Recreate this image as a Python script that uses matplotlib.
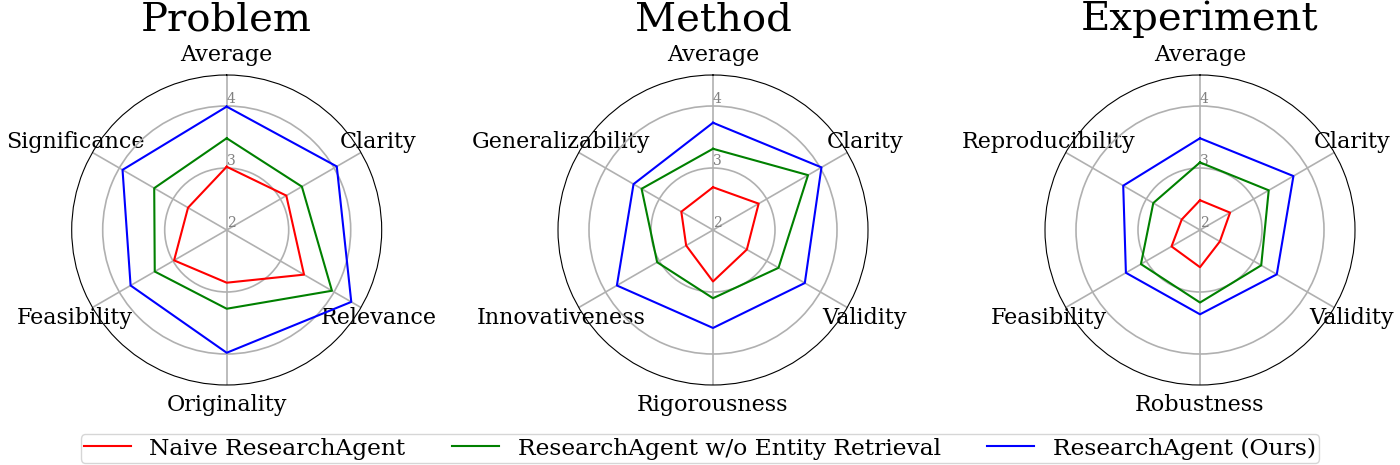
import numpy as np
from matplotlib import pyplot as plt

plt.rcParams['font.family'] = 'DejaVu Serif'

# categories for each panel (clockwise from top)
problemLabels = ['Average', 'Clarity', 'Relevance', 'Originality', 'Feasibility', 'Significance']
methodLabels = ['Average', 'Clarity', 'Validity', 'Rigorousness', 'Innovativeness', 'Generalizability']
experimentLabels = ['Average', 'Clarity', 'Validity', 'Robustness', 'Feasibility', 'Reproducibility']

# scores
problemNaive = [3.02, 3.11, 3.44, 2.85, 2.98, 2.72]
problemNoEntity = [3.48, 3.40, 3.96, 3.27, 3.34, 3.35]
problemOurs = [3.99, 4.05, 4.32, 3.98, 3.79, 3.94]

methodNaive = [2.69, 2.85, 2.63, 2.83, 2.50, 2.59]
methodNoEntity = [3.31, 3.77, 3.22, 3.10, 3.04, 3.33]
methodOurs = [3.73, 4.02, 3.71, 3.58, 3.79, 3.48]

experimentNaive = [2.48, 2.56, 2.37, 2.60, 2.53, 2.34]
experimentNoEntity = [3.09, 3.28, 3.14, 3.17, 3.10, 2.87]
experimentOurs = [3.48, 3.74, 3.43, 3.36, 3.38, 3.43]

seriesNames = ['Naive ResearchAgent', 'ResearchAgent w/o Entity Retrieval', 'ResearchAgent (Ours)']
seriesColors = ['red', 'green', 'blue']

panels = [
    ('Problem', problemLabels, [problemNaive, problemNoEntity, problemOurs]),
    ('Method', methodLabels, [methodNaive, methodNoEntity, methodOurs]),
    ('Experiment', experimentLabels, [experimentNaive, experimentNoEntity, experimentOurs]),
]

W, H = 1400, 465
fig = plt.figure(figsize=(14, 4.65), dpi=100)
centersX = [226.7, 713, 1200]
centerY = 230
radius = 155

for (title, labels, series), cx in zip(panels, centersX):
    rect = [(cx - radius) / W, (H - centerY - radius) / H, 2 * radius / W, 2 * radius / H]
    ax = fig.add_axes(rect, projection='polar')
    ax.set_theta_offset(np.pi / 2)
    ax.set_theta_direction(-1)
    angles = np.linspace(0, 2 * np.pi, len(labels), endpoint=False)
    closed = np.concatenate([angles, angles[:1]])
    for vals, name, col in zip(series, seriesNames, seriesColors):
        v = np.array(vals + vals[:1])
        ax.plot(closed, v, color=col, linewidth=1.5, label=name)
    ax.set_ylim(2, 4.5)
    ax.set_yticks([2, 3, 4])
    ax.set_yticklabels(['2', '3', '4'], color='gray', fontsize=10)
    ax.set_rlabel_position(0)
    ax.set_xticks(angles)
    ax.set_xticklabels(labels, fontsize=16)
    ax.tick_params(axis='x', pad=4)
    ax.grid(linewidth=1.2)
    ax.set_title(title, fontsize=29, y=1.145, pad=0)

handles, names = ax.get_legend_handles_labels()
fig.legend(handles, names, loc='lower center', bbox_to_anchor=(0.5, 0.004),
           borderaxespad=0, borderpad=0.15, ncol=3, fontsize=16.8)

fig.savefig('out.png')
